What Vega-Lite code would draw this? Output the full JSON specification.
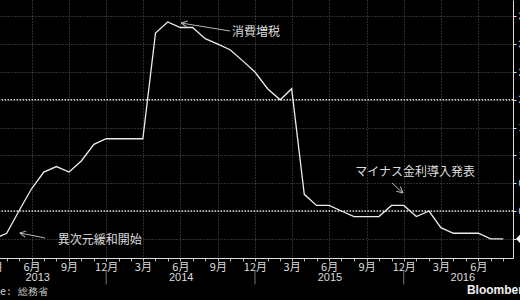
{
  "$schema": "https://vega.github.io/schema/vega-lite/v6.json",
  "width": 543,
  "height": 258,
  "autosize": {"type": "none"},
  "padding": {"left": -30, "top": 0, "right": 7, "bottom": 42},
  "background": "#000000",
  "config": {"view": {"stroke": null}, "font": "Noto Sans CJK JP"},
  "resolve": {"axis": {"x": "independent", "y": "independent"}},
  "datasets": {
    "cpi": [
      {"date": "2013-01-01", "value": -0.2}, {"date": "2013-02-01", "value": -0.3}, {"date": "2013-03-01", "value": -0.5},
      {"date": "2013-04-01", "value": -0.4}, {"date": "2013-05-01", "value": 0.0}, {"date": "2013-06-01", "value": 0.4},
      {"date": "2013-07-01", "value": 0.7}, {"date": "2013-08-01", "value": 0.8}, {"date": "2013-09-01", "value": 0.7},
      {"date": "2013-10-01", "value": 0.9}, {"date": "2013-11-01", "value": 1.2}, {"date": "2013-12-01", "value": 1.3},
      {"date": "2014-01-01", "value": 1.3}, {"date": "2014-02-01", "value": 1.3}, {"date": "2014-03-01", "value": 1.3},
      {"date": "2014-04-01", "value": 3.2}, {"date": "2014-05-01", "value": 3.4}, {"date": "2014-06-01", "value": 3.3},
      {"date": "2014-07-01", "value": 3.3}, {"date": "2014-08-01", "value": 3.1}, {"date": "2014-09-01", "value": 3.0},
      {"date": "2014-10-01", "value": 2.9}, {"date": "2014-11-01", "value": 2.7}, {"date": "2014-12-01", "value": 2.5},
      {"date": "2015-01-01", "value": 2.2}, {"date": "2015-02-01", "value": 2.0}, {"date": "2015-03-01", "value": 2.2},
      {"date": "2015-04-01", "value": 0.3}, {"date": "2015-05-01", "value": 0.1}, {"date": "2015-06-01", "value": 0.1},
      {"date": "2015-07-01", "value": 0.0}, {"date": "2015-08-01", "value": -0.1}, {"date": "2015-09-01", "value": -0.1},
      {"date": "2015-10-01", "value": -0.1}, {"date": "2015-11-01", "value": 0.1}, {"date": "2015-12-01", "value": 0.1},
      {"date": "2016-01-01", "value": -0.1}, {"date": "2016-02-01", "value": 0.0}, {"date": "2016-03-01", "value": -0.3},
      {"date": "2016-04-01", "value": -0.4}, {"date": "2016-05-01", "value": -0.4}, {"date": "2016-06-01", "value": -0.4},
      {"date": "2016-07-01", "value": -0.5}, {"date": "2016-08-01", "value": -0.5}
    ],
    "refs": [{"ref": 0}, {"ref": 2}],
    "ann": [
      {"date": "2014-10-06", "value": 3.22, "label": "消費増税"},
      {"date": "2013-08-04", "value": -0.52, "label": "異次元緩和開始"},
      {"date": "2015-08-04", "value": 0.7, "label": "マイナス金利導入発表"}
    ],
    "arrows": [
      {"id": "a", "date": "2014-10-01", "value": 3.237, "date2": "2014-06-03", "value2": 3.381},
      {"id": "b", "date": "2013-07-04", "value": -0.485, "date2": "2013-05-03", "value2": -0.395},
      {"id": "c", "date": "2015-11-02", "value": 0.504, "date2": "2015-11-29", "value2": 0.324}
    ],
    "years": [
      {"date": "2013-06-16", "year": "2013"},
      {"date": "2014-06-03", "year": "2014"},
      {"date": "2015-06-03", "year": "2015"},
      {"date": "2016-04-24", "year": "2016"}
    ],
    "seps": [{"date": "2013-12-01"}, {"date": "2014-12-01"}, {"date": "2015-12-01"}]
  },
  "layer": [
    {
      "data": {"name": "cpi"},
      "mark": {"type": "line", "color": "#ececec", "strokeWidth": 1.3, "opacity": 0},
      "encoding": {
        "x": {
          "field": "date", "type": "temporal",
          "scale": {"type": "utc", "domain": [{"year": 2013, "month": 1, "date": 1, "utc": true}, {"year": 2016, "month": 8, "date": 25, "utc": true}]},
          "axis": {
            "title": null,
            "tickCount": {"interval": "month", "step": 1},
            "labelExpr": "utcmonth(datum.value) % 3 == 2 ? utcFormat(datum.value, '%-m') + '月' : ''",
            "labelOverlap": false, "labelFlush": false, "labelBound": false,
            "grid": true, "gridColor": "#5a5a5a", "gridDash": [1, 2],
            "gridOpacity": {"condition": {"test": "utcmonth(datum.value) % 3 == 2", "value": 1}, "value": 0},
            "domainColor": "#dddddd", "domainWidth": 1,
            "tickColor": "#bbbbbb", "tickSize": 3,
            "labelColor": "#dddddd", "labelFontSize": 11, "labelPadding": 0, "labelFont": "Noto Sans CJK JP"
          }
        },
        "y": {
          "field": "value", "type": "quantitative",
          "scale": {"domain": [-0.845, 3.795], "nice": false, "zero": false},
          "axis": {
            "orient": "right", "title": null,
            "values": [-0.5, 0, 0.5, 1, 1.5, 2, 2.5, 3, 3.5],
            "format": ".1f",
            "grid": true, "gridColor": "#5a5a5a", "gridDash": [1, 2],
            "domainColor": "#dddddd", "tickColor": "#dddddd", "tickSize": 3,
            "labelColor": "#dddddd", "labelFontSize": 11, "labelPadding": 2, "labelFont": "Liberation Sans"
          }
        }
      }
    },
    {
      "data": {"name": "refs"},
      "mark": {"type": "rule", "color": "#d8d8d8", "strokeWidth": 1.6, "strokeDash": [1.5, 1.5]},
      "encoding": {
        "y": {"field": "ref", "type": "quantitative", "axis": null}
      }
    },
    {
      "data": {"name": "cpi"},
      "mark": {"type": "line", "color": "#ececec", "strokeWidth": 1.3},
      "encoding": {
        "x": {"field": "date", "type": "temporal", "axis": null},
        "y": {"field": "value", "type": "quantitative", "axis": null}
      }
    },
    {
      "data": {"name": "arrows"},
      "mark": {"type": "rule", "color": "#b8b8b8", "strokeWidth": 1},
      "encoding": {
        "x": {"field": "date", "type": "temporal", "axis": null},
        "x2": {"field": "date2"},
        "y": {"field": "value", "type": "quantitative", "axis": null},
        "y2": {"field": "value2"}
      }
    },
    {
      "data": {"name": "arrows"},
      "transform": [{"filter": "datum.id == 'a'"}],
      "mark": {"type": "point", "shape": "M0,0L1,-0.5M0,0L1,0.5", "filled": false, "stroke": "#b8b8b8", "strokeWidth": 1, "size": 150, "opacity": 1, "angle": 9},
      "encoding": {
        "x": {"field": "date2", "type": "temporal", "axis": null},
        "y": {"field": "value2", "type": "quantitative", "axis": null}
      }
    },
    {
      "data": {"name": "arrows"},
      "transform": [{"filter": "datum.id == 'b'"}],
      "mark": {"type": "point", "shape": "M0,0L1,-0.5M0,0L1,0.5", "filled": false, "stroke": "#b8b8b8", "strokeWidth": 1, "size": 150, "opacity": 1, "angle": 11},
      "encoding": {
        "x": {"field": "date2", "type": "temporal", "axis": null},
        "y": {"field": "value2", "type": "quantitative", "axis": null}
      }
    },
    {
      "data": {"name": "arrows"},
      "transform": [{"filter": "datum.id == 'c'"}],
      "mark": {"type": "point", "shape": "M0,0L1,-0.5M0,0L1,0.5", "filled": false, "stroke": "#b8b8b8", "strokeWidth": 1, "size": 150, "opacity": 1, "angle": 222},
      "encoding": {
        "x": {"field": "date2", "type": "temporal", "axis": null},
        "y": {"field": "value2", "type": "quantitative", "axis": null}
      }
    },
    {
      "data": {"name": "ann"},
      "mark": {"type": "text", "align": "left", "baseline": "middle", "fontSize": 12, "color": "#dddddd", "font": "Noto Sans CJK JP"},
      "encoding": {
        "x": {"field": "date", "type": "temporal", "axis": null},
        "y": {"field": "value", "type": "quantitative", "axis": null},
        "text": {"field": "label"}
      }
    },
    {
      "data": {"name": "years"},
      "mark": {"type": "text", "align": "center", "baseline": "middle", "fontSize": 11, "color": "#dddddd", "font": "Liberation Sans"},
      "encoding": {
        "x": {"field": "date", "type": "temporal", "axis": null},
        "y": {"datum": -1.205, "type": "quantitative", "axis": null},
        "text": {"field": "year"}
      }
    },
    {
      "data": {"name": "seps"},
      "mark": {"type": "rule", "color": "#777777", "strokeWidth": 1},
      "encoding": {
        "x": {"field": "date", "type": "temporal", "axis": null},
        "y": {"datum": -1.07, "type": "quantitative", "axis": null},
        "y2": {"datum": -1.32}
      }
    },
    {
      "data": {"values": [{"t": 1}]},
      "mark": {"type": "text", "text": "Source: 総務省", "align": "left", "baseline": "middle", "fontSize": 10, "color": "#cccccc", "font": "DejaVu Sans Mono"},
      "encoding": {
        "x": {"datum": {"year": 2013, "month": 1, "date": 1, "utc": true}, "type": "temporal", "axis": null},
        "y": {"datum": -1.456, "type": "quantitative", "axis": null}
      }
    },
    {
      "data": {"values": [{"t": 1}]},
      "mark": {"type": "text", "text": "Bloomberg", "align": "left", "baseline": "middle", "fontSize": 12, "fontWeight": "bold", "color": "#f0f0f0", "font": "Liberation Sans"},
      "encoding": {
        "x": {"datum": {"year": 2016, "month": 5, "date": 4, "utc": true}, "type": "temporal", "axis": null},
        "y": {"datum": -1.42, "type": "quantitative", "axis": null}
      }
    },
    {
      "data": {"values": [{"last": -0.5}]},
      "mark": {"type": "point", "shape": "M0,0L0.6,-0.6L3,-0.6L3,0.6L0.6,0.6Z", "filled": true, "color": "#ffffff", "opacity": 1, "size": 400},
      "encoding": {
        "x": {"datum": {"year": 2016, "month": 9, "date": 1, "utc": true}, "type": "temporal", "axis": null},
        "y": {"field": "last", "type": "quantitative", "axis": null}
      }
    }
  ]
}
